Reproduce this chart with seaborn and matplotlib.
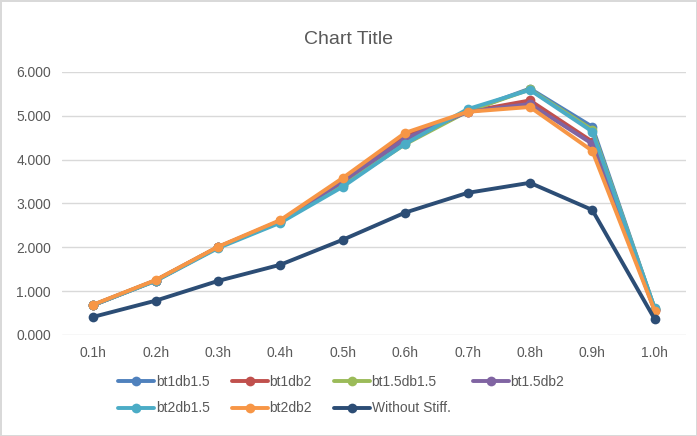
import matplotlib
matplotlib.use("Agg")
import matplotlib.pyplot as plt
import matplotlib.ticker as mticker
import pandas as pd
import seaborn as sns

# Data
positions = ['0.1h', '0.2h', '0.3h', '0.4h', '0.5h', '0.6h', '0.7h', '0.8h', '0.9h', '1.0h']
bt1db15 = [0.68, 1.24, 2.00, 2.58, 3.42, 4.40, 5.10, 5.62, 4.75, 0.60]
bt1db2 = [0.68, 1.24, 2.00, 2.60, 3.52, 4.52, 5.09, 5.35, 4.41, 0.57]
bt15db15 = [0.68, 1.24, 2.00, 2.58, 3.42, 4.35, 5.10, 5.60, 4.68, 0.60]
bt15db2 = [0.68, 1.24, 2.00, 2.60, 3.50, 4.48, 5.09, 5.27, 4.36, 0.56]
bt2db15 = [0.68, 1.23, 1.98, 2.56, 3.38, 4.36, 5.15, 5.59, 4.64, 0.61]
bt2db2 = [0.69, 1.25, 2.01, 2.62, 3.58, 4.61, 5.09, 5.20, 4.20, 0.55]
without = [0.41, 0.78, 1.23, 1.60, 2.17, 2.79, 3.24, 3.47, 2.85, 0.36]

series_names = ['bt1db1.5', 'bt1db2', 'bt1.5db1.5', 'bt1.5db2', 'bt2db1.5', 'bt2db2', 'Without Stiff.']
colors = ['#4F81BD', '#C0504D', '#9BBB59', '#8064A2', '#4BACC6', '#F79646', '#2C4D75']

df = pd.DataFrame({
    'pos': positions,
    'bt1db1.5': bt1db15,
    'bt1db2': bt1db2,
    'bt1.5db1.5': bt15db15,
    'bt1.5db2': bt15db2,
    'bt2db1.5': bt2db15,
    'bt2db2': bt2db2,
    'Without Stiff.': without,
})
long = df.melt(id_vars='pos', var_name='series', value_name='value')

sns.set_style('white')
plt.rcParams['font.family'] = ['Liberation Sans', 'DejaVu Sans']

fig = plt.figure(figsize=(6.97, 4.36), dpi=100)
fig.patch.set_edgecolor('#D9D9D9')
fig.patch.set_linewidth(1)
ax = fig.add_axes([0.089, 0.232, 0.895, 0.603])

sns.lineplot(data=long, x='pos', y='value', hue='series', hue_order=series_names,
             palette=colors, marker='o', markersize=7, markeredgewidth=0,
             linewidth=2.8, sort=False, ax=ax)

ax.set_xlim(-0.5, len(positions) - 0.5)
ax.set_ylim(0, 6)
ax.yaxis.set_major_locator(mticker.MultipleLocator(1))
ax.yaxis.set_major_formatter(mticker.FormatStrFormatter('%.3f'))
ax.grid(axis='y', color='#D9D9D9', linewidth=1)
ax.set_axisbelow(True)
for s in ax.spines.values():
    s.set_visible(False)
ax.tick_params(axis='both', length=0, labelsize=10, colors='#595959', pad=8)
ax.set_xlabel('')
ax.set_ylabel('')

fig.suptitle('Chart Title', y=0.93, fontsize=14, color='#595959')

# legend filled row by row like the original (matplotlib fills columns)
handles, labels = ax.get_legend_handles_labels()
order = [0, 4, 1, 5, 2, 6, 3]
ax.legend([handles[i] for i in order], [labels[i] for i in order],
          loc='upper left', bbox_to_anchor=(0.07, -0.105), ncol=4,
          frameon=False, fontsize=10, labelcolor='#595959', handlelength=2.6,
          handletextpad=0.1, columnspacing=1.6, labelspacing=0.9)

fig.savefig('out.png', dpi=100)
